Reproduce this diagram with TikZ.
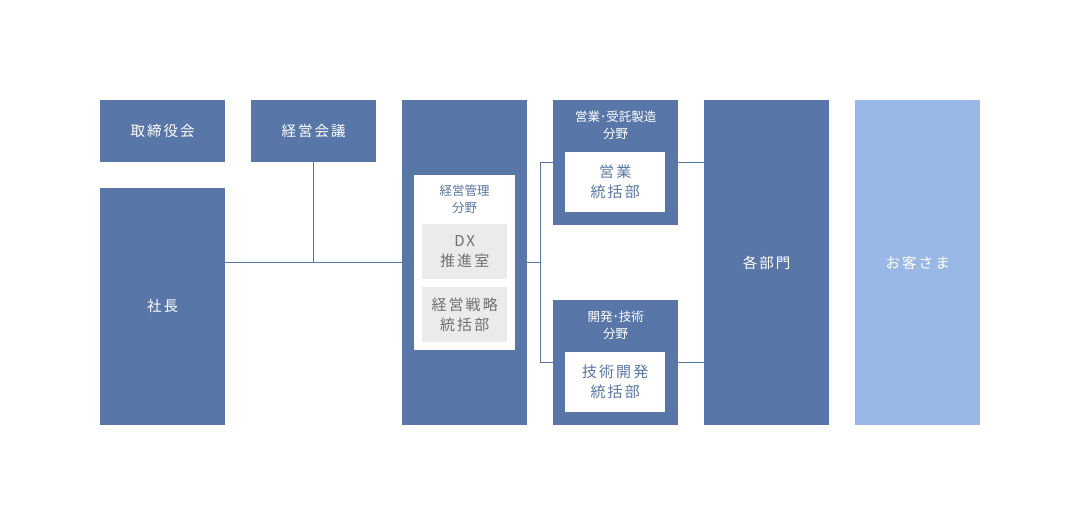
\documentclass[tikz,border=0pt]{standalone}
\usepackage{fontspec}
\setmainfont{Noto Sans CJK JP}
\newfontfamily\widejp[LetterSpace=14]{Noto Sans CJK JP}
\usepackage{xcolor}
\definecolor{navy}{HTML}{5876A8}
\definecolor{sky}{HTML}{9AB8E6}
\definecolor{mist}{HTML}{EBEBEB}
\definecolor{slate}{HTML}{707070}
\usetikzlibrary{positioning,calc}
\tikzset{
  unit/.style={fill=navy, text=white, inner sep=0pt, anchor=north west, minimum width=125pt, font=\widejp\fontsize{14.5}{18}\selectfont},
  title/.style={text=white, align=center, inner sep=0pt, font=\fontsize{12.5}{17}\selectfont},
  panel/.style={fill=white, inner sep=0pt, anchor=north west, minimum width=101pt, minimum height=175pt},
  dept/.style={fill=white, text=navy, align=center, inner sep=0pt, anchor=north west, minimum width=100pt, minimum height=60pt, font=\widejp\fontsize{15}{20}\selectfont},
  room/.style={fill=mist, text=slate, align=center, inner sep=0pt, anchor=north west, minimum width=85pt, minimum height=55pt, font=\widejp\fontsize{15}{20}\selectfont},
  link/.style={draw=navy, line width=1pt},
}
\begin{document}
\begin{tikzpicture}[x=1pt, y=-1pt]
  \useasboundingbox (0,0) rectangle (1080,525);
  % top row and president
  \node[unit, minimum height=62pt] (board) at (100,100) {取締役会};
  \node[unit, minimum height=62pt] (council) at (251,100) {経営会議};
  \node[unit, minimum height=237pt] (ceo) at (100,188) {\raisebox{2pt}{社長}};
  % management division
  \node[unit, minimum height=325pt] (admin) at (402,100) {};
  \node[panel] (adminpanel) at (414,175) {};
  \node[title, text=navy, below=10pt of adminpanel.north] (admintitle) {経営管理\\分野};
  \node[room] (dx) at (422,224) {DX\\推進室};
  \node[room] (strategy) at (422,287) {経営戦略\\統括部};
  % sales and engineering divisions
  \node[unit, minimum height=125pt] (sales) at (553,100) {};
  \node[title, below=11pt of sales.north] (salestitle) {営業･受託製造\\分野};
  \node[dept] (salesdept) at (565,152) {営業\\統括部};
  \node[unit, minimum height=125pt] (tech) at (553,300) {};
  \node[title, below=11pt of tech.north] (techtitle) {開発･技術\\分野};
  \node[dept] (techdept) at (565,352) {技術開発\\統括部};
  % departments and customers
  \node[unit, minimum height=325pt] (depts) at (704,100) {各部門};
  \node[unit, minimum height=325pt, fill=sky] (clients) at (855,100) {お客さま};
  % connectors
  \coordinate (fork) at ($(admin.east)+(13,0)$);
  \draw[link] (ceo.east |- admin.west) -- (admin.west);
  \draw[link] (council.south) -- (council.south |- admin.west);
  \draw[link] (admin.east) -- (fork);
  \draw[link] (sales.west) -- (sales.west -| fork) -- (tech.west -| fork) -- (tech.west);
  \draw[link] (sales.east) -- (depts.west |- sales.east);
  \draw[link] (tech.east) -- (depts.west |- tech.east);
\end{tikzpicture}
\end{document}
